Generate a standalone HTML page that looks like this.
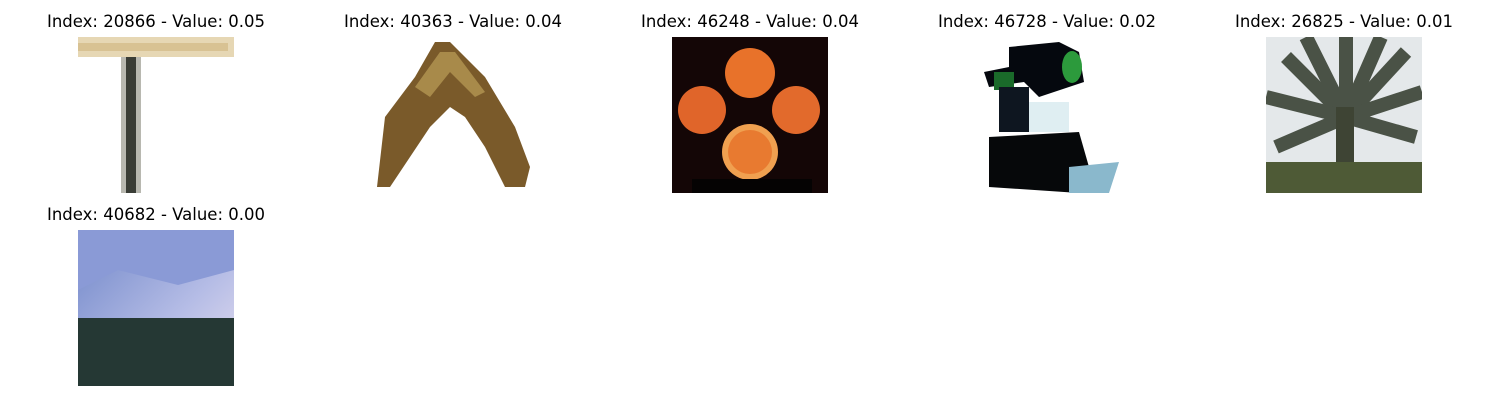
<!DOCTYPE html>
<html><head><meta charset="utf-8"><style>
body{margin:0;background:#fff;width:1500px;height:400px;overflow:hidden;font-family:"DejaVu Sans","Liberation Sans",sans-serif}
.t{position:absolute;font-size:16.5px;color:#000;text-align:center;width:296px;white-space:nowrap}
svg.i{position:absolute;width:156px;height:156px}
</style></head><body>
<div class="t" style="left:8px;top:12px">Index: 20866 - Value: 0.05</div>
<div class="t" style="left:305px;top:12px">Index: 40363 - Value: 0.04</div>
<div class="t" style="left:602px;top:12px">Index: 46248 - Value: 0.04</div>
<div class="t" style="left:899px;top:12px">Index: 46728 - Value: 0.02</div>
<div class="t" style="left:1196px;top:12px">Index: 26825 - Value: 0.01</div>
<div class="t" style="left:8px;top:205px">Index: 40682 - Value: 0.00</div>

<svg class="i" style="left:78px;top:37px" viewBox="0 0 156 156">
<rect width="156" height="156" fill="#fff"/>
<rect x="0" y="0" width="156" height="20" fill="#e6d7b4"/>
<rect x="0" y="6" width="150" height="8" fill="#d8c293"/>
<rect x="43" y="20" width="20" height="136" fill="#b8b8b0"/>
<rect x="48" y="20" width="10" height="136" fill="#3a3d36"/>
</svg>
<svg class="i" style="left:375px;top:37px" viewBox="0 0 156 156">
<rect width="156" height="156" fill="#fff"/>
<path d="M2 150 L10 80 L40 40 L60 5 L75 5 L110 40 L140 90 L155 130 L150 150 L130 150 L110 110 L90 80 L75 70 L55 90 L35 120 L15 150 Z" fill="#7a5a2a"/>
<path d="M40 50 L65 15 L80 15 L110 55 L100 60 L75 35 L55 60 Z" fill="#a88a4a"/>
</svg>
<svg class="i" style="left:672px;top:37px" viewBox="0 0 156 156">
<rect width="156" height="156" fill="#140606"/>
<circle cx="78" cy="36" r="25" fill="#e8722a"/>
<circle cx="30" cy="73" r="24" fill="#e0652a"/>
<circle cx="124" cy="73" r="24" fill="#e26a2c"/>
<circle cx="78" cy="115" r="28" fill="#f0a050"/>
<circle cx="78" cy="115" r="22" fill="#e87a30"/>
<rect x="20" y="142" width="120" height="14" fill="#050303"/>
</svg>
<svg class="i" style="left:969px;top:37px" viewBox="0 0 156 156">
<rect width="156" height="156" fill="#fff"/>
<path d="M40 10 L90 5 L110 15 L115 45 L70 60 L55 45 L20 50 L15 35 L40 30 Z" fill="#05080e"/>
<rect x="25" y="35" width="20" height="18" fill="#1a6a2a"/>
<ellipse cx="103" cy="30" rx="10" ry="16" fill="#2c9a3c"/>
<rect x="30" y="50" width="30" height="45" fill="#0e1620"/>
<rect x="60" y="65" width="40" height="30" fill="#dfeef2"/>
<path d="M20 100 L110 95 L120 130 L110 156 L20 150 Z" fill="#06080a"/>
<path d="M100 130 L150 125 L140 156 L100 156 Z" fill="#8ab8cc"/>
</svg>
<svg class="i" style="left:1266px;top:37px" viewBox="0 0 156 156">
<rect width="156" height="156" fill="#e4e8ea"/>
<g stroke="#4a5246" stroke-width="14" fill="none">
<path d="M80 80 L20 20"/><path d="M80 80 L0 60"/><path d="M80 80 L10 110"/><path d="M80 80 L80 0"/>
<path d="M80 80 L140 15"/><path d="M80 80 L156 55"/><path d="M80 80 L150 100"/><path d="M80 80 L40 0"/><path d="M80 80 L115 0"/>
</g>
<rect x="70" y="70" width="18" height="86" fill="#3e4434"/>
<rect x="0" y="125" width="156" height="31" fill="#4e5a36"/>
</svg>
<svg class="i" style="left:78px;top:230px" viewBox="0 0 156 156">
<defs><linearGradient id="sk" x1="0" y1="0" x2="1" y2="1"><stop offset="0" stop-color="#6f86c8"/><stop offset="0.6" stop-color="#b6bde6"/><stop offset="1" stop-color="#e8e0f0"/></linearGradient></defs>
<rect width="156" height="156" fill="url(#sk)"/>
<path d="M0 0 L156 0 L156 40 L100 55 L40 40 L0 60 Z" fill="#8a9ad6"/>
<rect x="0" y="88" width="156" height="68" fill="#253834"/>
</svg>
</body></html>
